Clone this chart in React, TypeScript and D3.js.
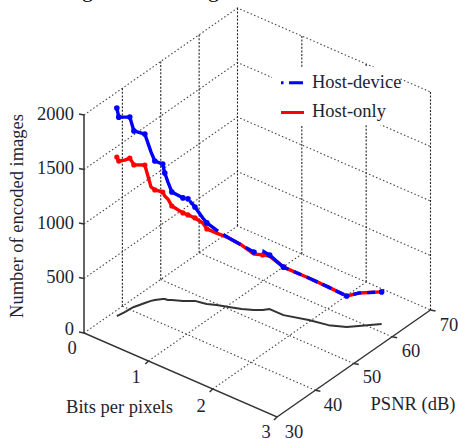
import React from "react";
import * as d3 from "d3";

const bitsPerPixel = [0.081,0.087,0.103,0.109,0.12,0.17,0.2,0.224,0.287,0.307,0.349,0.387,0.506,0.554,0.621,0.725,0.776,0.886,1.028,1.18,1.308,1.394,1.448,1.664,1.972,2.232,2.431,2.532,2.724];
const psnr = [37.2,37.6,38.9,40.1,41,43,44.1,44.7,45.7,45.9,46,46.4,47.3,47.8,48.5,48.8,49,49.7,50.5,51.3,52.3,53.2,54.1,54.1,55.5,56.3,57.7,59.1,61.9];
const hostDevice = [1908,1816,1789,1761,1615,1550,1367,1275,1238,1156,1083,991,945,936,862,780,743,688,633,587,532,541,495,440,385,349,284,303,294];
const hostOnly = [1459,1413,1394,1385,1303,1266,1046,1009,982,945,927,862,807,789,761,734,688,661,633,587,514,505,486,440,385,349,284,303,294];
const deviceMarkers = [0,1,3,4,5,7,8,9,11,12,13,14,16,20,22,23,26,28];
const onlyMarkers = [0,1,3,4,5,7,8,11,12,13,14,16,21,23];
const bppTicks = [0,1,2,3];
const psnrTicks = [30,40,50,60,70];
const countTicks = [0,500,1000,1500,2000];
const FONT = "'Liberation Serif', 'Times New Roman', serif";
const FS = 18.5;
const INK = "#1c2430";

const bx = d3.scaleLinear().domain([0,3]).range([0,193]);
const by = d3.scaleLinear().domain([0,3]).range([0,84]);
const px = d3.scaleLinear().domain([30,70]).range([0,153.5]);
const py = d3.scaleLinear().domain([30,70]).range([0,-107]);
const zy = d3.scaleLinear().domain([0,2000]).range([0,-218]);
const X = (b:number,p:number)=>84+bx(b)+px(p);
const Y = (b:number,p:number,z:number)=>333+by(b)+py(p)+zy(z);

const idx = bitsPerPixel.map((_,i)=>i);
const curve = (z:(i:number)=>number)=>d3.line<number>().x(i=>X(bitsPerPixel[i],psnr[i])).y(i=>Y(bitsPerPixel[i],psnr[i],z(i)))(idx)!;
const hdot = {stroke:"#444",strokeWidth:1.1,strokeDasharray:"1.5 2.3",fill:"none"};
const vdot = {stroke:"#222",strokeWidth:1.1,strokeDasharray:"2 1.6",fill:"none"};
const axis = {stroke:"#333",strokeWidth:1.5,fill:"none"};

export default function App(){
  return <svg width={458} height={439} style={{position:"absolute",left:0,top:0,fontFamily:FONT}}>
    <rect width={458} height={439} fill="#fff"/>
    <text x={82} y={-3} fontSize={22} fill="#000">g</text>
    <text x={208} y={-3} fontSize={22} fill="#000">g</text>
    {countTicks.map(z=><path key={z} d={`M${X(0,30)},${Y(0,30,z)}L${X(0,70)},${Y(0,70,z)}L${X(3,70)},${Y(3,70,z)}`} {...hdot}/>)}
    {psnrTicks.slice(1).map(p=><g key={p}>
      <path d={`M${X(0,p)},${Y(0,p,0)}L${X(0,p)},${Y(0,p,2000)}`} {...vdot}/>
      {p<70 && <path d={`M${X(0,p)},${Y(0,p,0)}L${X(3,p)},${Y(3,p,0)}`} {...hdot}/>}
    </g>)}
    {bppTicks.slice(1).map(b=><g key={b}>
      <path d={`M${X(b,70)},${Y(b,70,0)}L${X(b,70)},${Y(b,70,2000)}`} {...vdot}/>
      {b<3 && <path d={`M${X(b,30)},${Y(b,30,0)}L${X(b,70)},${Y(b,70,0)}`} {...hdot}/>}
    </g>)}
    <path d={curve(()=>0)} stroke="#333" strokeWidth={2} fill="none" strokeLinejoin="round"/>
    <path d={curve(i=>hostOnly[i])} stroke="#f00" strokeWidth={3.4} fill="none" strokeLinejoin="round"/>
    {onlyMarkers.map(i=><circle key={i} cx={X(bitsPerPixel[i],psnr[i])} cy={Y(bitsPerPixel[i],psnr[i],hostOnly[i])} r={2.6} fill="#f00"/>)}
    <path d={curve(i=>hostDevice[i])} stroke="#00f" strokeWidth={3.4} strokeDasharray="125 8 42 6 20 6 12 6 32 6 8 6 12 5 10 5 9 10 8 6 8 6 6 6 12 7 12" fill="none" strokeLinejoin="round"/>
    {deviceMarkers.map(i=><circle key={i} cx={X(bitsPerPixel[i],psnr[i])} cy={Y(bitsPerPixel[i],psnr[i],hostDevice[i])} r={2.8} fill="#00f"/>)}
    <path d={`M${X(0,30)},${Y(0,30,2000)}V${Y(0,30,0)}L${X(3,30)},${Y(3,30,0)}L${X(3,70)},${Y(3,70,0)}`} {...axis}/>
    {countTicks.map(z=><g key={z}>
      <path d={`M${X(0,30)-5},${Y(0,30,z)-1}L${X(0,30)},${Y(0,30,z)}`} {...axis}/>
      <text x={74} y={Y(0,30,z)+(z===0?2:4.5)} textAnchor="end" fontSize={FS} fill={INK}>{z}</text>
    </g>)}
    {bppTicks.slice(1).map(b=><path key={b} d={`M${X(b,30)},${Y(b,30,0)}l-3,3`} {...axis}/>)}
    {psnrTicks.slice(1).map(p=><path key={p} d={`M${X(3,p)},${Y(3,p,0)}l5,1`} {...axis}/>)}
    {[[72,354,"0"],[136,383,"1"],[201,412,"2"],[266,438,"3"]].map(([x,y,t])=><text key={t as string} x={x as number} y={y as number} textAnchor="middle" fontSize={FS} fill={INK}>{t}</text>)}
    {[[294,438,"30"],[333,411,"40"],[372,383,"50"],[411,357,"60"],[449,331,"70"]].map(([x,y,t])=><text key={t as string} x={x as number} y={y as number} textAnchor="middle" fontSize={FS} fill={INK}>{t}</text>)}
    <text x={119.5} y={413} textAnchor="middle" fontSize={FS} fill={INK}>Bits per pixels</text>
    <text x={413} y={410} textAnchor="middle" fontSize={FS} fill={INK}>PSNR (dB)</text>
    <text transform="translate(23,216) rotate(-90)" textAnchor="middle" fontSize={FS} fill={INK}>Number of encoded images</text>
    <rect x={272} y={67} width={127} height={58} fill="#fff"/>
    <path d="M281,82.700H303" stroke="#00f" strokeWidth={3} strokeDasharray="2.500 5.500 14 4" fill="none"/>
    <path d="M281,112.500H304" stroke="#f00" strokeWidth={3} fill="none"/>
    <text x={312} y={87.500} fontSize={FS} fill={INK}>Host-device</text>
    <text x={312} y={117} fontSize={FS} fill={INK}>Host-only</text>
  </svg>;
}
